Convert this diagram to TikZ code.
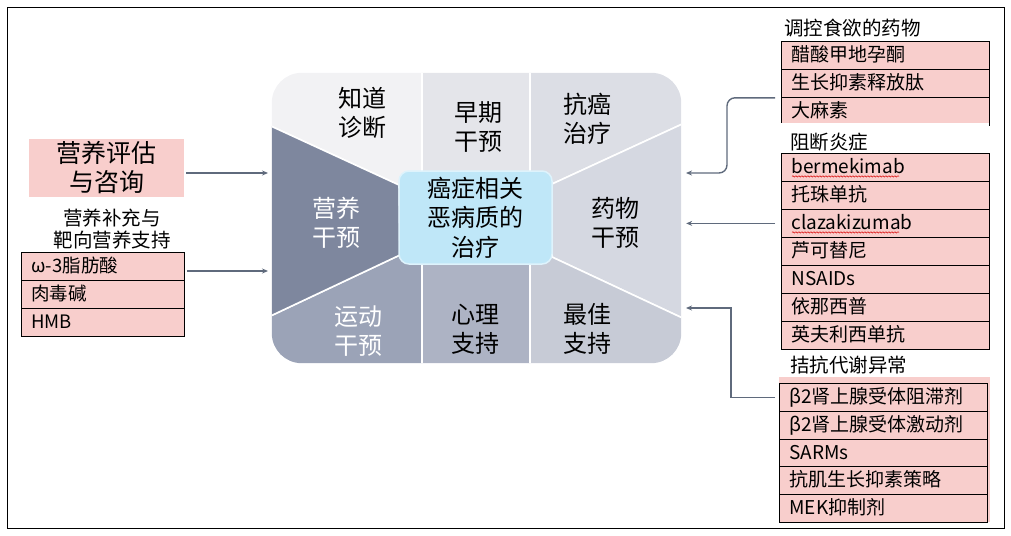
\documentclass[tikz,border=0pt]{standalone}
\usepackage{fontspec}
\setmainfont{Noto Sans CJK SC}
\usetikzlibrary{arrows.meta,decorations.pathmorphing}

\definecolor{pinkbox}{RGB}{248,206,204}
\definecolor{hubblue}{RGB}{191,231,248}
\definecolor{hubline}{RGB}{222,243,252}
\definecolor{arrowgray}{RGB}{95,106,124}
\definecolor{segdiag}{RGB}{242,242,244}
\definecolor{segearly}{RGB}{228,229,234}
\definecolor{seganti}{RGB}{220,222,229}
\definecolor{segdrug}{RGB}{213,216,225}
\definecolor{segbest}{RGB}{199,203,214}
\definecolor{segpsych}{RGB}{173,179,196}
\definecolor{segexer}{RGB}{155,163,183}
\definecolor{segnutr}{RGB}{126,135,158}

\begin{document}
\begin{tikzpicture}[x=1pt, y=-1pt,
  seg/.style={draw=white, line width=1.6pt},
  seglabel/.style={align=center, inner sep=0pt, font=\fontsize{24}{29}\selectfont},
  hub/.style={fill=hubblue, draw=hubline, line width=1.5pt, rounded corners=10pt, minimum width=153pt, minimum height=93pt, align=center, inner sep=0pt, font=\fontsize{24}{29.5}\selectfont},
  row/.style={draw, line width=0.8pt, fill=pinkbox, anchor=north west, minimum width=208pt, minimum height=28pt, text width=188pt, inner xsep=10pt, inner ysep=0pt, text height=15pt, text depth=3pt, align=left, font=\fontsize{19}{22}\selectfont},
  title/.style={anchor=west, inner sep=0pt, font=\fontsize{19.5}{22}\selectfont},
  arrow/.style={-{Stealth[length=6pt,width=5pt]}, line width=1.4pt, draw=arrowgray},
  squiggle/.style={draw=red!85!black, line width=0.5pt, decorate, decoration={snake, amplitude=0.7pt, segment length=3pt}}
]
\useasboundingbox (0,0) rectangle (1011,535);
\draw[line width=1pt] (7,8) rectangle (1004,528);

% wheel
\node[minimum width=409pt, minimum height=290pt, inner sep=0pt] (wheel) at (476.5,218) {};
\begin{scope}
\clip[rounded corners=30pt] (wheel.north west) rectangle (wheel.south east);
\fill[segdiag, seg] (262,63) -- (422,63) -- (422,185) -- (399,185) -- (262,122) -- cycle;
\fill[segearly, seg] (422,63) -- (530,63) -- (530,185) -- (422,185) -- cycle;
\fill[seganti, seg] (530,63) -- (691,63) -- (691,120) -- (552,184) -- (530,185) -- cycle;
\fill[segdrug, seg] (691,120) -- (552,184) -- (552,257) -- (691,322) -- cycle;
\fill[segbest, seg] (691,322) -- (552,257) -- (530,257) -- (530,373) -- (691,373) -- cycle;
\fill[segpsych, seg] (530,257) -- (530,373) -- (422,373) -- (422,257) -- cycle;
\fill[segexer, seg] (422,257) -- (422,373) -- (262,373) -- (262,320) -- (400,255) -- cycle;
\fill[segnutr, seg] (262,122) -- (399,185) -- (400,255) -- (262,320) -- cycle;
\end{scope}

\node[seglabel] (diag) at (362,113) {知道\\诊断};
\node[seglabel] (early) at (478,127.5) {早期\\干预};
\node[seglabel] (anti) at (587,119) {抗癌\\治疗};
\node[seglabel, text=white] (nutr) at (336,222.5) {营养\\干预};
\node[seglabel] (drug) at (615,222.5) {药物\\干预};
\node[seglabel, text=white] (exer) at (358,331) {运动\\干预};
\node[seglabel] (psych) at (475,329) {心理\\支持};
\node[seglabel] (best) at (587,329) {最佳\\支持};
\node[hub] (hub) at (475.5,217.5) {癌症相关\\恶病质的\\治疗};

% left side
\node[fill=pinkbox, minimum width=155pt, minimum height=58pt, align=center, inner sep=0pt, font=\fontsize{25}{29}\selectfont] (assess) at (106.5,168) {营养评估\\与咨询};
\node[align=center, inner sep=0pt, font=\fontsize{19.5}{22.5}\selectfont] (suppT) at (112,229) {营养补充与\\靶向营养支持};
\foreach \txt [count=\i] in {ω-3脂肪酸,肉毒碱,HMB}
  \node[row, minimum width=163pt, text width=143pt, font=\fontsize{18.5}{22}\selectfont] (supp\i) at (21,{252+(\i-1)*28}) {\txt};

% right side
\node[title] (appT) at (784,28) {调控食欲的药物};
\foreach \txt [count=\i] in {醋酸甲地孕酮,生长抑素释放肽,大麻素}
  \node[row] (app\i) at (781,{41+(\i-1)*28}) {\txt};
\node[title, fill=white, anchor=north west, text width=189pt, inner xsep=10pt, inner ysep=0pt, text height=26pt, text depth=4pt] (infT) at (780,123) {阻断炎症};
\foreach \txt [count=\i] in {bermekimab,托珠单抗,clazakizumab,芦可替尼,NSAIDs,依那西普,英夫利西单抗}
  \node[row] (inf\i) at (781,{153+(\i-1)*28}) {\txt};
\draw[squiggle] ([xshift=11pt,yshift=-9pt]inf1.west) -- ++(107,0);
\draw[squiggle] ([xshift=11pt,yshift=-9pt]inf3.west) -- ++(107,0);

\node[title] (metT) at (790,365) {拮抗代谢异常};
\fill[pinkbox] (779,377) rectangle (990,522);
\foreach \txt [count=\i] in {β2肾上腺受体阻滞剂,β2肾上腺受体激动剂,SARMs,抗肌生长抑素策略,MEK抑制剂}
  \node[row] (met\i) at (779,{383+(\i-1)*27.8}) {\txt};

% connectors
\coordinate (nutIn) at (268,173);
\coordinate (suppIn) at (268,271);
\coordinate (drugIn1) at (686,173);
\coordinate (bestIn) at (686,308);
\draw[arrow, shorten <=2pt] (assess.east |- nutIn) -- (nutIn);
\draw[arrow, shorten <=2pt] (supp1.east |- suppIn) -- (suppIn);
\draw[arrow, rounded corners=8pt, shorten <=6pt] (app2.south west) -| ([xshift=41pt]drugIn1) -- (drugIn1);
\draw[arrow, shorten <=6pt, shorten >=5pt] (inf3.west) -- (wheel.east |- inf3.west);
\draw[arrow, shorten <=4pt] (met1.west) -| ([xshift=45pt]bestIn) -- (bestIn);
\end{tikzpicture}
\end{document}
